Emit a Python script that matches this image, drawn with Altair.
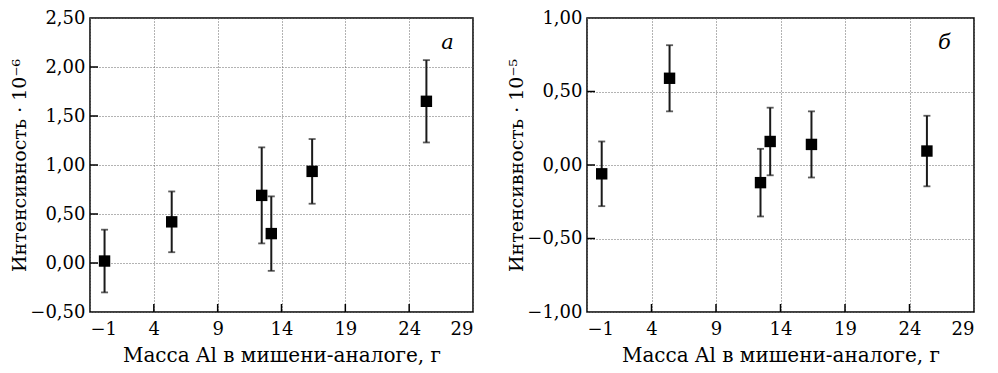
import altair as alt
import pandas as pd

# Data
mass = [0.14, 5.4, 12.45, 13.2, 16.4, 25.35]
a_val = [0.02, 0.42, 0.69, 0.30, 0.935, 1.65]
a_err = [0.32, 0.31, 0.49, 0.38, 0.33, 0.42]
b_val = [-0.06, 0.59, -0.12, 0.16, 0.14, 0.095]
b_err = [0.22, 0.225, 0.23, 0.23, 0.225, 0.24]

x_ticks = [-1, 4, 9, 14, 19, 24, 29]
a_ticks = [-0.5, 0.0, 0.5, 1.0, 1.5, 2.0, 2.5]
b_ticks = [-1.0, -0.5, 0.0, 0.5, 1.0]

x_title = "Масса Al в мишени-аналоге, г"
a_title = "Интенсивность · 10⁻⁶"
b_title = "Интенсивность · 10⁻⁵"

FONT = "DejaVu Serif"
LBL = "replace(replace(format(datum.value, '.2f'), '.', ','), '-', '−')"
XLBL = "replace(format(datum.value, 'd'), '-', '−')"


def panel(vals, errs, yticks, ytitle, letter, lx, ly, width, height):
    df = pd.DataFrame({
        "m": mass,
        "v": vals,
        "lo": [v - e for v, e in zip(vals, errs)],
        "hi": [v + e for v, e in zip(vals, errs)],
    })
    xs = alt.Scale(domain=[x_ticks[0], x_ticks[-1]], nice=False, zero=False)
    ys = alt.Scale(domain=[yticks[0], yticks[-1]], nice=False, zero=False)
    xax = alt.Axis(values=x_ticks, labelExpr=XLBL, title=x_title, grid=True,
                   gridDash=[1, 2], gridColor="#666", gridWidth=1, ticks=False,
                   domain=False, labelFont=FONT, labelFontSize=18,
                   labelColor="black", labelPadding=8, titleFont=FONT,
                   titleFontSize=20, titleFontWeight="normal", titleColor="black",
                   titlePadding=7)
    yax = alt.Axis(values=yticks, labelExpr=LBL, title=ytitle, grid=True,
                   gridDash=[1, 2], gridColor="#666", gridWidth=1, ticks=False,
                   domain=False, labelFont=FONT, labelFontSize=18,
                   labelColor="black", labelPadding=5, titleFont=FONT,
                   titleFontSize=19, titleFontWeight="normal", titleColor="black",
                   titlePadding=0)
    base = alt.Chart(df)
    bars = base.mark_rule(color="#1a1a1a", strokeWidth=2).encode(
        x=alt.X("m:Q", scale=xs, axis=xax),
        y=alt.Y("lo:Q", scale=ys, axis=yax),
        y2="hi:Q",
    )
    cap_lo = base.mark_tick(color="#1a1a1a", thickness=1.8, size=7, orient="horizontal").encode(
        x=alt.X("m:Q", scale=xs), y=alt.Y("lo:Q", scale=ys))
    cap_hi = base.mark_tick(color="#1a1a1a", thickness=1.8, size=7, orient="horizontal").encode(
        x=alt.X("m:Q", scale=xs), y=alt.Y("hi:Q", scale=ys))
    pts = base.mark_square(color="black", size=130, opacity=1).encode(
        x=alt.X("m:Q", scale=xs), y=alt.Y("v:Q", scale=ys))
    xt = alt.Chart(pd.DataFrame({"t": x_ticks[1:-1]})).mark_rule(
        color="black", strokeWidth=1.5).encode(
        x=alt.X("t:Q", scale=xs), y=alt.value(height), y2=alt.value(height - 8))
    yt = alt.Chart(pd.DataFrame({"t": yticks[1:-1]})).mark_rule(
        color="black", strokeWidth=1.5).encode(
        y=alt.Y("t:Q", scale=ys), x=alt.value(0), x2=alt.value(8))
    lab = alt.Chart(pd.DataFrame({"x": [lx], "y": [ly], "t": [letter]})).mark_text(
        font=FONT, fontSize=21, fontStyle="italic", color="black").encode(
        x=alt.X("x:Q", scale=xs), y=alt.Y("y:Q", scale=ys), text="t:N")
    return alt.layer(bars, cap_lo, cap_hi, pts, xt, yt, lab).properties(
        width=width, height=height)


left = panel(a_val, a_err, a_ticks, a_title, "а", 27.0, 2.25, 383, 294)
right = panel(b_val, b_err, b_ticks, b_title, "б", 26.7, 0.83, 387, 294)

chart = alt.hconcat(left, right, spacing=33).resolve_scale(
    x="independent", y="independent"
).configure_view(stroke="black", strokeWidth=1.5).properties(
    padding={"left": 2, "top": 0, "right": 0, "bottom": 0},
    background="white")

chart.save("out.html", embed_options={"renderer": "svg", "actions": False})
